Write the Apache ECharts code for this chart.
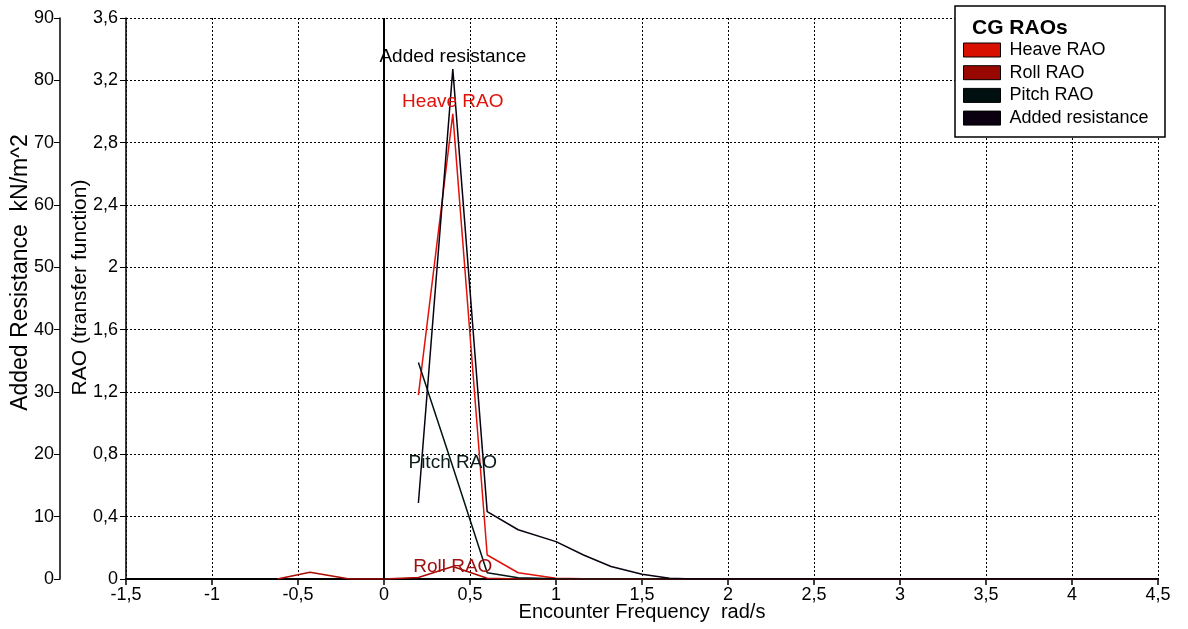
<!DOCTYPE html>
<html>
<head>
<meta charset="utf-8">
<script src="https://cdn.jsdelivr.net/npm/echarts@6/dist/echarts.min.js"></script>
<style>
html,body{margin:0;padding:0;background:#fff;}
#chart{width:1188px;height:629px;}
</style>
</head>
<body>
<div id="chart"></div>
<script>
// ---- data ----
const freq      = [0.2, 0.4, 0.6, 0.78, 1.0, 1.16, 1.32, 1.5, 1.66, 1.8, 2.0, 2.5, 3.0, 3.5, 4.0, 4.5];
const heaveRAO  = [1.18, 2.985, 0.154, 0.04, 0.005, 0.002, 0.001, 0, 0, 0, 0, 0, 0, 0, 0, 0];
const pitchRAO  = [1.39, 0.72, 0.04, 0.008, 0.002, 0, 0, 0, 0, 0, 0, 0, 0, 0, 0, 0];
const rollRAO   = [0.01, 0.08, 0.005, 0, 0, 0, 0, 0, 0, 0, 0, 0, 0, 0, 0, 0];
const addedRes  = [12.2, 81.8, 10.8, 7.9, 6.0, 3.85, 2.0, 0.75, 0.12, 0, 0, 0, 0, 0, 0, 0];
const rollNegFreq = [-0.62, -0.43, -0.2, 0];
const rollNegRAO  = [0, 0.043, 0, 0];
const labelFreq = 0.4;

const seriesNames = ['Heave RAO', 'Roll RAO', 'Pitch RAO', 'Added resistance'];
const lineColors  = ['#e0120a', '#a80c04', '#001414', '#0a0010'];
const swatchColors = ['#d81000', '#990800', '#001010', '#0a0010'];
const labelColors = ['#e0120a', '#a01010', '#0a1a1a', '#000000'];
const labelOffsets = [-12, 0, -4, -12];

const raoTicks = { min: 0, max: 3.6, interval: 0.4 };
const arTicks  = { min: 0, max: 90, interval: 10 };
const xTicks   = { min: -1.5, max: 4.5, interval: 0.5 };

const FONT = 'Liberation Sans, Arial, sans-serif';
const comma = v => String(+(+v).toFixed(2)).replace('.', ',');

function buildData(xs, ys, k) {
  return xs.map((x, i) => {
    if (x === labelFreq) {
      return {
        value: [x, ys[i]],
        symbol: 'circle',
        symbolSize: 0.1,
        label: {
          show: true,
          position: 'inside',
          offset: [0, labelOffsets[k]],
          formatter: seriesNames[k],
          color: labelColors[k],
          fontSize: 19,
          fontFamily: FONT
        }
      };
    }
    return [x, ys[i]];
  });
}

const rollFreqAll = rollNegFreq.concat(freq);
const rollAll = rollNegRAO.concat(rollRAO);

function mkSeries(k, xs, ys, yIdx, extra) {
  return Object.assign({
    name: seriesNames[k],
    type: 'line',
    yAxisIndex: yIdx,
    symbol: 'none',
    showSymbol: true,
    data: buildData(xs, ys, k),
    itemStyle: { color: swatchColors[k] },
    lineStyle: { color: lineColors[k], width: 1.5 },
    emphasis: { disabled: true },
    animation: false,
    z: 3
  }, extra || {});
}

const chart = echarts.init(document.getElementById('chart'), null, { renderer: 'canvas' });

const option = {
  animation: false,
  backgroundColor: '#fff',
  title: {
    text: 'CG RAOs',
    left: 972,
    top: 18,
    padding: 0,
    z: 10,
    textStyle: { fontSize: 21, fontWeight: 'bold', color: '#000', fontFamily: FONT }
  },
  legend: {
    orient: 'vertical',
    left: 963,
    top: 41,
    padding: 0,
    itemGap: 4.7,
    itemWidth: 37,
    itemHeight: 14,
    icon: 'rect',
    z: 10,
    selectedMode: false,
    itemStyle: { borderColor: '#000', borderWidth: 1 },
    textStyle: { fontSize: 18, lineHeight: 18, color: '#000', fontFamily: FONT, padding: [0, 0, 0, 4] },
    data: seriesNames
  },
  graphic: [{
    type: 'rect',
    z: 5,
    shape: { x: 955, y: 6, width: 210, height: 131 },
    style: { fill: '#fff', stroke: '#000', lineWidth: 1.5 }
  }],
  grid: { left: 126, right: 30, top: 18, bottom: 50, containLabel: false, outerBoundsMode: 'none' },
  xAxis: {
    type: 'value',
    min: xTicks.min, max: xTicks.max, interval: xTicks.interval,
    name: 'Encounter Frequency  rad/s',
    nameLocation: 'middle',
    nameGap: 23,
    nameMoveOverlap: false,
    nameTextStyle: { fontSize: 20, color: '#000', fontFamily: FONT },
    axisLine: { show: true, onZero: false, lineStyle: { color: '#000', width: 2 } },
    axisTick: { show: true, inside: false, length: 6, lineStyle: { color: '#000', width: 1.5 } },
    axisLabel: { formatter: comma, fontSize: 18, color: '#000', margin: 7, fontFamily: FONT, showMinLabel: true, showMaxLabel: true },
    splitLine: { show: true, lineStyle: { color: '#000', width: 1, type: [2, 2] } }
  },
  yAxis: [{
    type: 'value',
    position: 'left',
    min: raoTicks.min, max: raoTicks.max, interval: raoTicks.interval,
    name: 'RAO (transfer function)',
    nameLocation: 'middle',
    nameGap: 35,
    nameRotate: 90,
    nameMoveOverlap: false,
    nameTextStyle: { fontSize: 21, color: '#000', fontFamily: FONT, padding: [0, 0, 0, 22] },
    axisLine: { show: true, onZero: false, lineStyle: { color: '#000', width: 1.5 } },
    axisTick: { show: true, inside: false, length: 6, lineStyle: { color: '#000', width: 1 } },
    axisLabel: { formatter: comma, fontSize: 18, color: '#000', margin: 8, fontFamily: FONT },
    splitLine: { show: true, lineStyle: { color: '#000', width: 1, type: [2, 2] } }
  }, {
    type: 'value',
    position: 'left',
    offset: 66,
    min: arTicks.min, max: arTicks.max, interval: arTicks.interval,
    name: 'Added Resistance  kN/m^2',
    nameLocation: 'middle',
    nameGap: 28,
    nameRotate: 90,
    nameMoveOverlap: false,
    nameTextStyle: { fontSize: 23, color: '#000', fontFamily: FONT, padding: [0, 0, 0, 52] },
    axisLine: { show: true, onZero: false, lineStyle: { color: '#000', width: 1.5 } },
    axisTick: { show: true, inside: false, length: 6, lineStyle: { color: '#000', width: 1 } },
    axisLabel: { formatter: comma, fontSize: 18, color: '#000', margin: 6, fontFamily: FONT },
    splitLine: { show: false }
  }],
  series: [
    mkSeries(0, freq, heaveRAO, 0, {
      markLine: {
        silent: true,
        symbol: 'none',
        label: { show: false },
        lineStyle: { color: '#000', width: 2, type: 'solid' },
        data: [{ xAxis: 0 }],
        animation: false
      }
    }),
    mkSeries(1, rollFreqAll, rollAll, 0),
    mkSeries(2, freq, pitchRAO, 0),
    mkSeries(3, freq, addedRes, 1)
  ]
};

chart.setOption(option);
</script>
</body>
</html>
